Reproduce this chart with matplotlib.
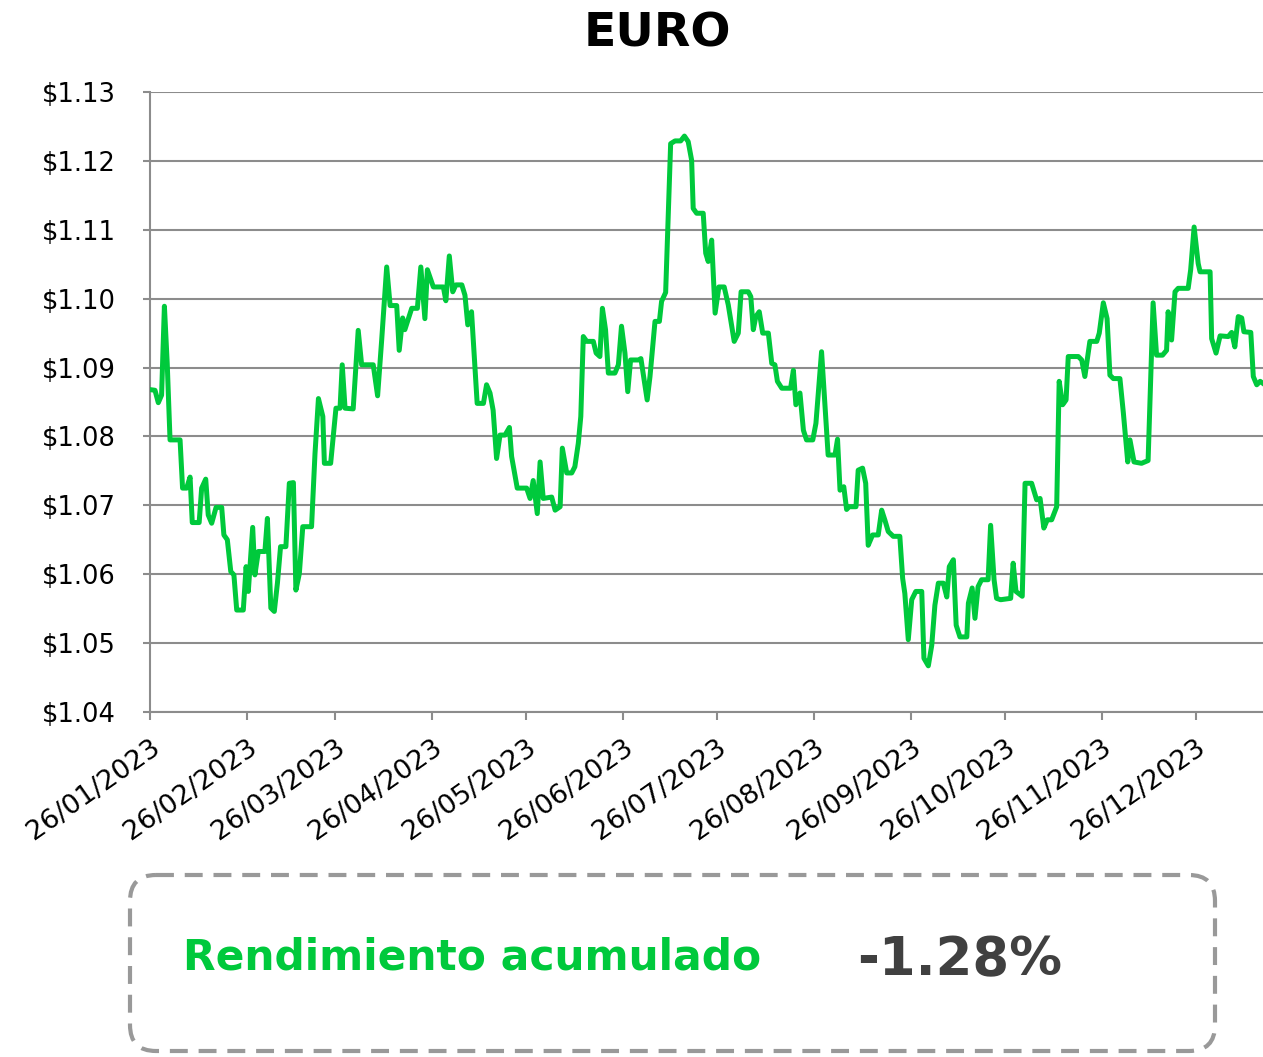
import matplotlib
matplotlib.use("Agg")
import matplotlib.pyplot as plt
from matplotlib.patches import FancyBboxPatch
import pandas as pd

plt.rcParams['font.family'] = ['DejaVu Sans']

title = "EURO"
start_date = "2023-01-26"
# days since 26/01/2023
days = [0, 1.6, 2.65, 3.7, 4.6, 5.5, 6.4, 9.6, 10.4, 11.7, 12.8, 13.5, 15.7, 16.5, 17.8, 18.6, 19.7, 21.1, 22.9, 23.6,
        24.7, 25.8, 26.8, 27.7, 29.8, 30.7, 31.4, 32.8, 33.5, 34.6, 36.7, 37.5, 38.6, 39.7, 40.7, 41.7, 43.4, 44.5, 45.8, 46.6,
        47.7, 48.8, 51.6, 52.7, 53.8, 55.2, 55.7, 57.7, 59.4, 60.7, 61.4, 62.3, 64.9, 66.5, 67.6, 71.3, 72.7, 74.0, 75.6, 76.7,
        78.8, 79.6, 80.7, 81.4, 83.6, 85.4, 86.5, 87.8, 88.6, 90.5, 93.7, 94.5, 95.6, 96.7, 97.7, 99.6, 100.6, 101.5, 102.7, 104.5,
        106.5, 107.5, 108.6, 109.6, 110.7, 111.8, 113.4, 114.8, 115.5, 117.3, 120.3, 121.4, 122.4, 123.7, 124.6, 125.6, 128.3, 129.4, 131.0, 131.7,
        133.1, 134.7, 135.7, 136.8, 137.6, 138.4, 139.5, 141.6, 142.5, 143.7, 144.5, 145.5, 146.4, 148.5, 149.6, 150.6, 151.7, 152.6, 153.5, 156.0,
        156.8, 158.8, 159.7, 161.3, 162.7, 163.4, 164.7, 166.3, 167.7, 169.5, 170.7, 171.9, 173.0, 173.5, 174.6, 176.7, 177.5, 178.3, 179.4, 180.5,
        181.7, 183.4, 184.7, 186.6, 187.9, 188.8, 191.1, 191.9, 192.7, 193.5, 194.6, 195.7, 197.5, 198.6, 199.6, 200.4, 201.8, 204.6, 205.5, 206.3,
        207.6, 208.7, 209.7, 211.7, 212.7, 214.5, 216.6, 218.8, 219.6, 220.4, 221.6, 222.5, 223.3, 225.5, 226.2, 227.6, 228.6, 229.4, 230.8, 232.6,
        233.7, 234.7, 235.8, 237.4, 239.5, 240.4, 241.1, 242.2, 243.3, 244.6, 246.5, 247.2, 248.6, 249.7, 250.7, 251.8, 253.4, 254.5, 255.3, 256.6,
        257.5, 258.7, 260.9, 261.4, 262.6, 263.5, 264.5, 265.6, 267.7, 268.5, 269.6, 270.4, 271.7, 274.9, 275.7, 276.6, 278.6, 279.5, 281.6, 283.2,
        284.3, 285.5, 286.6, 288.0, 289.6, 290.4, 291.5, 292.6, 293.3, 296.5, 297.6, 298.6, 300.2, 302.4, 303.2, 304.5, 305.7, 306.6, 307.7, 309.8,
        310.9, 312.3, 313.0, 314.3, 316.7, 318.8, 320.4, 321.5, 323.4, 324.7, 325.2, 326.3, 327.4, 328.4, 331.6, 332.4, 333.5, 334.8, 335.4, 338.6,
        339.1, 340.5, 341.8, 344.4, 345.5, 346.5, 347.6, 348.7, 349.4, 351.6, 352.4, 353.5, 354.6, 355.5]
rates = [1.0868, 1.0867, 1.0849, 1.0860, 1.0989, 1.0906, 1.0795, 1.0795, 1.0725, 1.0725, 1.0741, 1.0675, 1.0675, 1.0725, 1.0738, 1.0686, 1.0674, 1.0697, 1.0697, 1.0657,
         1.0650, 1.0604, 1.0599, 1.0548, 1.0548, 1.0611, 1.0575, 1.0668, 1.0599, 1.0633, 1.0633, 1.0681, 1.0551, 1.0546, 1.0587, 1.0640, 1.0640, 1.0732, 1.0733, 1.0577,
         1.0601, 1.0669, 1.0669, 1.0775, 1.0855, 1.0829, 1.0761, 1.0761, 1.0841, 1.0841, 1.0904, 1.0841, 1.0840, 1.0954, 1.0904, 1.0904, 1.0859, 1.0940, 1.1046, 1.0990,
         1.0990, 1.0925, 1.0972, 1.0955, 1.0986, 1.0986, 1.1046, 1.0971, 1.1042, 1.1017, 1.1017, 1.0997, 1.1062, 1.1010, 1.1020, 1.1020, 1.1005, 1.0962, 1.0981, 1.0848,
         1.0848, 1.0875, 1.0863, 1.0838, 1.0768, 1.0802, 1.0802, 1.0813, 1.0771, 1.0725, 1.0725, 1.0710, 1.0736, 1.0688, 1.0763, 1.0710, 1.0712, 1.0693, 1.0698, 1.0783,
         1.0747, 1.0747, 1.0756, 1.0790, 1.0829, 1.0945, 1.0938, 1.0938, 1.0921, 1.0916, 1.0986, 1.0955, 1.0892, 1.0892, 1.0904, 1.0960, 1.0921, 1.0865, 1.0911, 1.0911,
         1.0913, 1.0853, 1.0887, 1.0967, 1.0967, 1.0996, 1.1009, 1.1225, 1.1229, 1.1229, 1.1236, 1.1228, 1.1201, 1.1131, 1.1124, 1.1124, 1.1066, 1.1054, 1.1085, 1.0979,
         1.1017, 1.1017, 1.0991, 1.0938, 1.0950, 1.1010, 1.1010, 1.1003, 1.0955, 1.0974, 1.0981, 1.0950, 1.0950, 1.0906, 1.0904, 1.0880, 1.0870, 1.0870, 1.0896, 1.0846,
         1.0863, 1.0809, 1.0795, 1.0795, 1.0819, 1.0923, 1.0773, 1.0773, 1.0796, 1.0722, 1.0727, 1.0694, 1.0698, 1.0698, 1.0751, 1.0754, 1.0732, 1.0642, 1.0657, 1.0657,
         1.0693, 1.0679, 1.0662, 1.0655, 1.0655, 1.0594, 1.0572, 1.0505, 1.0563, 1.0575, 1.0575, 1.0478, 1.0467, 1.0497, 1.0555, 1.0587, 1.0587, 1.0567, 1.0611, 1.0621,
         1.0526, 1.0509, 1.0509, 1.0558, 1.0580, 1.0536, 1.0582, 1.0592, 1.0592, 1.0671, 1.0592, 1.0565, 1.0563, 1.0565, 1.0616, 1.0575, 1.0568, 1.0732, 1.0732, 1.0708,
         1.0710, 1.0667, 1.0679, 1.0679, 1.0698, 1.0880, 1.0846, 1.0853, 1.0916, 1.0916, 1.0911, 1.0887, 1.0938, 1.0938, 1.0950, 1.0994, 1.0971, 1.0889, 1.0884, 1.0884,
         1.0834, 1.0763, 1.0795, 1.0763, 1.0761, 1.0765, 1.0994, 1.0918, 1.0918, 1.0925, 1.0981, 1.0940, 1.1010, 1.1015, 1.1015, 1.1042, 1.1104, 1.1051, 1.1039, 1.1039,
         1.0942, 1.0921, 1.0946, 1.0945, 1.0951, 1.0930, 1.0974, 1.0972, 1.0952, 1.0951, 1.0887, 1.0875, 1.0880, 1.0877]

tick_dates = ["2023-01-26", "2023-02-26", "2023-03-26", "2023-04-26", "2023-05-26", "2023-06-26",
              "2023-07-26", "2023-08-26", "2023-09-26", "2023-10-26", "2023-11-26", "2023-12-26"]
y_ticks = [1.04, 1.05, 1.06, 1.07, 1.08, 1.09, 1.10, 1.11, 1.12, 1.13]
summary_label = "Rendimiento acumulado"
summary_value = "-1.28%"

GREEN = "#00c93c"
GRID = "#8c8c8c"

W, H = 1263, 1057
fig = plt.figure(figsize=(W / 100, H / 100), dpi=100)
fig.patch.set_facecolor("white")

left, right, top, bottom = 150, 1263, 92, 712
ax = fig.add_axes([left / W, 1 - bottom / H, (right - left) / W, (bottom - top) / H])

ax.plot(days, rates, color=GREEN, lw=3.6, solid_joinstyle="round", zorder=3)

t0 = pd.Timestamp(start_date)
tick_pos = [(pd.Timestamp(d) - t0).days for d in tick_dates]
tick_lab = [pd.Timestamp(d).strftime("%d/%m/%Y") for d in tick_dates]
ax.set_xticks(tick_pos)
ax.set_xticklabels(tick_lab, rotation=35, ha="right", rotation_mode="anchor", fontsize=19.5)
ax.set_xlim(0, 355.5)

ax.set_ylim(1.04, 1.13)
ax.set_yticks(y_ticks)
ax.set_yticklabels([f"${v:.2f}" for v in y_ticks], fontsize=18.5)
ax.yaxis.grid(True, color=GRID, lw=1.5)
ax.set_axisbelow(True)

for s in ["top", "right"]:
    ax.spines[s].set_visible(False)
for s in ["left", "bottom"]:
    ax.spines[s].set_color(GRID)
    ax.spines[s].set_linewidth(1.5)
ax.tick_params(axis="both", colors=GRID, labelcolor="black", width=1.5)
ax.tick_params(axis="y", length=5, pad=19.5)
ax.tick_params(axis="x", length=6, pad=10)

fig.text(657 / W, 1 - 34 / H, title, ha="center", va="center", fontsize=34, fontweight="bold")

# overlay in pixel coords for the summary box
ov = fig.add_axes([0, 0, 1, 1], facecolor="none")
ov.set_xlim(0, W)
ov.set_ylim(H, 0)
ov.axis("off")
box = FancyBboxPatch((130, 875), 1085, 176, boxstyle="round,pad=0,rounding_size=26",
                     fill=False, edgecolor="#999999", lw=3, linestyle=(0, (4.3, 2.6)))
ov.add_patch(box)
ov.text(183, 958, summary_label, color=GREEN, fontsize=30.5, fontweight="bold", ha="left", va="center")
ov.text(857, 960, summary_value, color="#404040", fontsize=38, fontweight="bold", ha="left", va="center")

fig.savefig("out.png", dpi=100)
